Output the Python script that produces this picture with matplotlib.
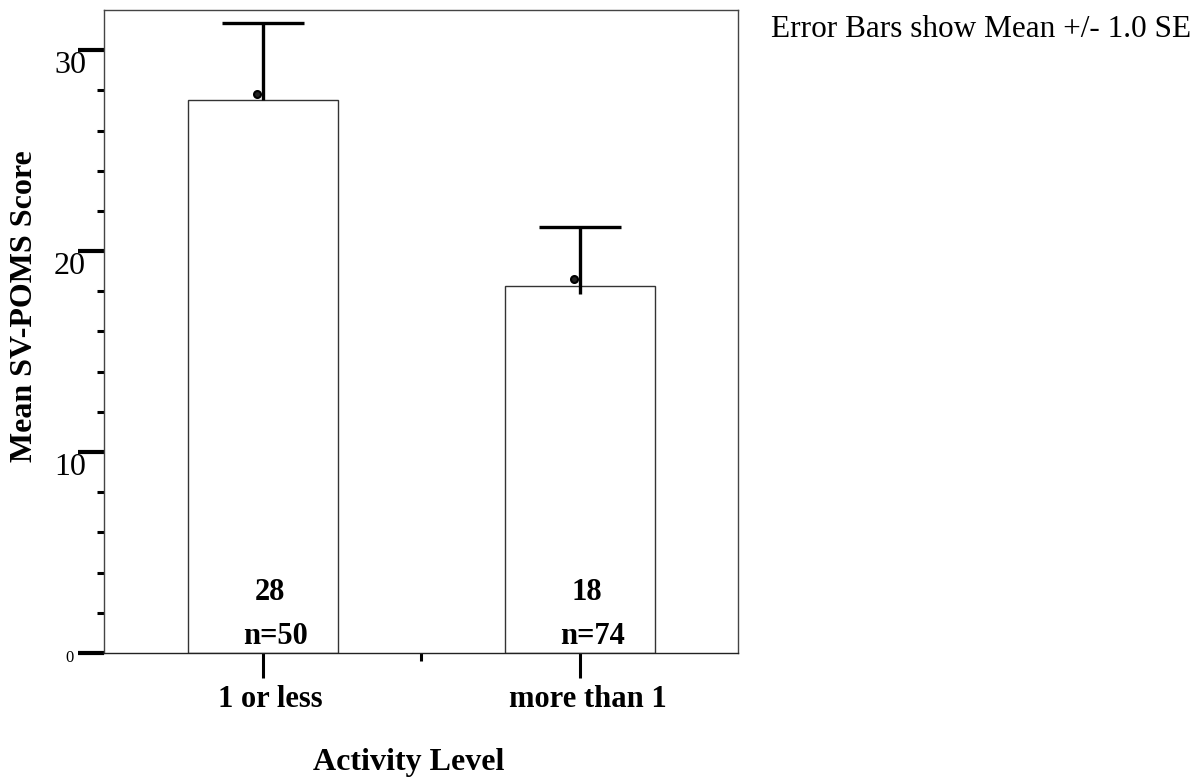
import numpy as np
import matplotlib
matplotlib.use('Agg')
import matplotlib.pyplot as plt
from matplotlib.transforms import ScaledTranslation

plt.rcParams['font.family'] = ['Liberation Serif', 'DejaVu Serif']

# datos
categorias = ['1 or less', 'more than 1']
medias = [27.5, 18.26]
puntos = [27.8, 18.6]
se_arriba = [3.85, 2.95]
se_abajo = [0.0, 0.4]
etiquetas_media = ['28', '18']
etiquetas_n = ['n=50', 'n=74']

fig = plt.figure(figsize=(12.04, 7.82), dpi=100)
ax = fig.add_axes([0.0864, 0.165, 0.5266, 0.8223])

x = np.arange(len(categorias))
ax.bar(x, medias, width=0.473, color='white', edgecolor='#333333', linewidth=1, zorder=2)
# barras de error: solo tapa superior
ax.errorbar(x, medias, yerr=[se_abajo, se_arriba], fmt='none', ecolor='black',
            elinewidth=2.4, capsize=0, zorder=3)
tope = np.array(medias) + np.array(se_arriba)
ax.plot(x, tope, linestyle='none', marker='_', ms=59, mew=2.4, color='black', zorder=3)
ax.plot(x - 0.016, puntos, 'o', ms=5, mfc='#222222', mec='black', mew=1.5, zorder=4)

for i in range(len(categorias)):
    ax.text(x[i] + 0.022, 3.0, etiquetas_media[i], ha='center', va='center',
            fontsize=22, fontweight='bold')
    ax.text(x[i] + 0.04, 0.8, etiquetas_n[i], ha='center', va='center',
            fontsize=22, fontweight='bold')

ax.set_xlim(-0.5, 1.5)
ax.set_ylim(0, 32)

# eje y
ax.set_yticks([0, 10, 20, 30])
ax.set_yticklabels(['0', '10', '20', '30'], fontsize=23)
ax.set_yticks(np.arange(0, 32, 2), minor=True)
ax.tick_params(axis='y', which='major', length=18.5, width=3, pad=-5.5)
ax.tick_params(axis='y', which='minor', length=5, width=2.2)
for lab in ax.get_yticklabels():
    if lab.get_text() == '0':
        lab.set_fontsize(12)
        dx, dy = -12, -3
    else:
        dx, dy = 0, -12
    lab.set_transform(lab.get_transform() + ScaledTranslation(dx / 100, dy / 100, fig.dpi_scale_trans))

# eje x
ax.set_xticks(x)
ax.set_xticklabels(categorias, fontsize=22, fontweight='bold')
ax.set_xticks([0.5], minor=True)
ax.tick_params(axis='x', which='major', length=18, width=2.2, pad=5)
ax.tick_params(axis='x', which='minor', length=6, width=2.2)
for lab in ax.get_xticklabels():
    lab.set_transform(lab.get_transform() + ScaledTranslation(8 / 100, 0, fig.dpi_scale_trans))

for s in ax.spines.values():
    s.set_linewidth(1)
    s.set_color('#444444')
ax.spines['bottom'].set_color('#222222')

ax.set_ylabel('Mean SV-POMS Score', fontsize=23, fontweight='bold', ha='center', va='center')
ax.yaxis.set_label_coords(-0.125, 0.54)
ax.set_xlabel('Activity Level', fontsize=23, fontweight='bold', va='baseline')
ax.xaxis.set_label_coords(0.48, -0.182)

fig.text(0.640, 0.9527, 'Error Bars show Mean +/- 1.0 SE', fontsize=22.5, va='baseline')

plt.savefig('out.png', dpi=100)
